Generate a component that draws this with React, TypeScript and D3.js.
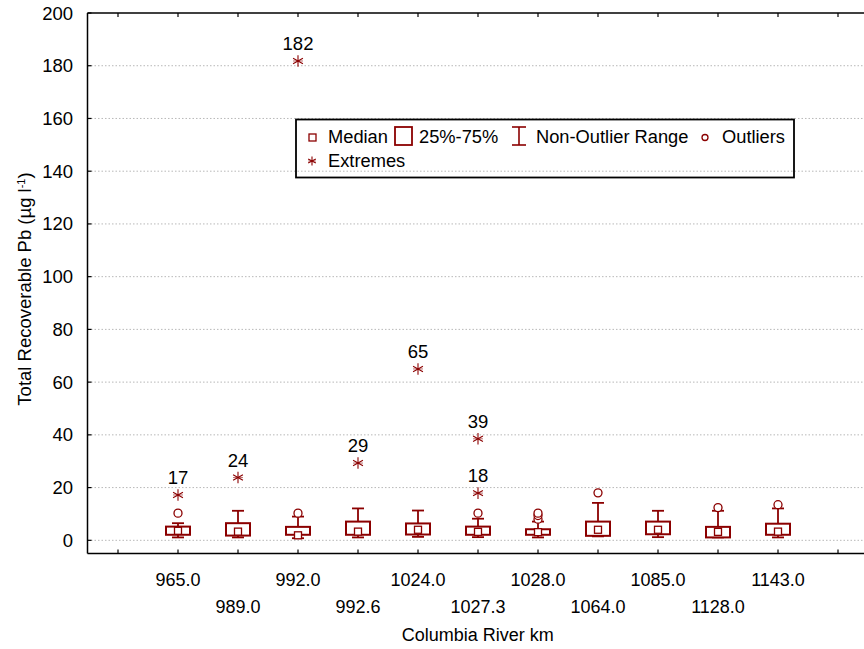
import React from "react";
import * as d3 from "d3";

const categories = ["965.0", "989.0", "992.0", "992.6", "1024.0", "1027.3", "1028.0", "1064.0", "1085.0", "1128.0", "1143.0"];
const medians = [3.6, 3.3, 1.9, 3.3, 4.0, 3.2, 3.1, 4.0, 4.0, 3.2, 3.3];
const q1 = [2.1, 1.8, 2.1, 2.1, 2.2, 2.1, 2.1, 1.7, 2.3, 1.1, 2.1];
const q3 = [5.2, 6.5, 5.1, 7.1, 6.4, 5.2, 4.2, 7.1, 7.1, 5.1, 6.3];
const whiskerLow = [1.1, 1.1, 0.8, 1.1, 1.3, 1.2, 1.1, 1.5, 1.2, 1.1, 1.1];
const whiskerHigh = [6.5, 11.2, 9.0, 12.1, 11.3, 8.2, 7.1, 14.2, 11.2, 11.2, 12.1];
const outliers: number[][] = [[10.3], [], [10.3], [], [], [10.3], [8.0, 9.4, 10.3], [18.0], [], [12.4], [13.5]];
const extremes: number[][] = [[17.2], [23.8], [181.8], [29.3], [65.0], [38.5, 17.9], [], [], [], [], []];
const yTicks = [0, 20, 40, 60, 80, 100, 120, 140, 160, 180, 200];

const W = 864, H = 649;
const left = 87.5, top = 13, right = 868, bottom = 553.5;
const RED = "#8B0000";
const FONT = "'Liberation Sans', Arial, sans-serif";

function Asterisk({ x, y, s = 5.8 }: { x: number; y: number; s?: number }) {
  const d = s * 0.85;
  return (
    <g stroke={RED} strokeWidth={1.1}>
      <line x1={x} y1={y - s} x2={x} y2={y + s} />
      <line x1={x - d} y1={y - d * 0.55} x2={x + d} y2={y + d * 0.55} />
      <line x1={x - d} y1={y + d * 0.55} x2={x + d} y2={y - d * 0.55} />
      <line x1={x - d} y1={y} x2={x + d} y2={y} strokeWidth={0.6} />
    </g>
  );
}

export default function App() {
  const slots = ["_l", ...categories, "_r"];
  const x = d3.scalePoint<string>().domain(slots).range([118, 838]);
  const y = d3.scaleLinear().domain([-5, 200]).range([bottom, top]);
  const bw = 24, cap = 12, ms = 7;

  return (
    <svg width={W} height={H} style={{ position: "absolute", left: 0, top: 0, background: "#fff" }} fontFamily={FONT}>
      {/* gridlines */}
      {yTicks.filter(t => t < 200).map(t => (
        <line key={t} x1={left} x2={right} y1={y(t)} y2={y(t)} stroke="#b8b8b8" strokeWidth={1} strokeDasharray="1.5 2" />
      ))}
      {/* axes */}
      <line x1={left} x2={right} y1={top} y2={top} stroke="#000" strokeWidth={1.5} />
      <line x1={left} x2={right} y1={bottom} y2={bottom} stroke="#000" strokeWidth={1.5} />
      <line x1={left} x2={left} y1={top} y2={bottom} stroke="#000" strokeWidth={1.5} />
      {yTicks.map(t => (
        <g key={t}>
          <line x1={left} x2={left + 4} y1={y(t)} y2={y(t)} stroke="#000" strokeWidth={1.2} />
          <text x={73} y={y(t) + 6.5} textAnchor="end" fontSize={18.5}>{t}</text>
        </g>
      ))}
      {slots.map(s => (
        <g key={s}>
          <line x1={x(s)} x2={x(s)} y1={bottom} y2={bottom - 4} stroke="#000" strokeWidth={1.2} />
          <line x1={x(s)} x2={x(s)} y1={top} y2={top + 4} stroke="#000" strokeWidth={1.2} />
        </g>
      ))}
      {categories.map((c, i) => (
        <text key={c} x={x(c)} y={i % 2 === 0 ? 586 : 613} textAnchor="middle" fontSize={18}>{c}</text>
      ))}
      <text x={(left + right) / 2} y={641} textAnchor="middle" fontSize={18}>Columbia River km</text>
      <text transform={`translate(31,289) rotate(-90)`} textAnchor="middle" fontSize={18.5}>
        Total Recoverable Pb (µg l<tspan baselineShift="super" fontSize={11}>-1</tspan>)
      </text>

      {/* boxes */}
      {categories.map((c, i) => {
        const cx = x(c)!;
        return (
          <g key={c} stroke={RED} fill="none">
            <line x1={cx} x2={cx} y1={y(q3[i])} y2={y(whiskerHigh[i])} strokeWidth={1.8} />
            <line x1={cx - cap / 2} x2={cx + cap / 2} y1={y(whiskerHigh[i])} y2={y(whiskerHigh[i])} strokeWidth={1.8} />
            <line x1={cx} x2={cx} y1={y(q1[i])} y2={y(whiskerLow[i])} strokeWidth={1.8} />
            <line x1={cx - cap / 2} x2={cx + cap / 2} y1={y(whiskerLow[i])} y2={y(whiskerLow[i])} strokeWidth={1.8} />
            <rect x={cx - bw / 2} y={y(q3[i])} width={bw} height={y(q1[i]) - y(q3[i])} strokeWidth={2} fill="#fff" />
            <rect x={cx - ms / 2} y={y(medians[i]) - ms / 2} width={ms} height={ms} strokeWidth={1.3} fill="#fff" />
            {outliers[i].map((o, k) => (
              <circle key={k} cx={cx} cy={y(o)} r={4} strokeWidth={1.3} fill="#fff" />
            ))}
            {extremes[i].map((e, k) => (
              <g key={k}>
                <Asterisk x={cx} y={y(e)} />
                <text x={cx} y={y(e) - 11} textAnchor="middle" fontSize={18.5} fill="#000" stroke="none">{Math.round(e)}</text>
              </g>
            ))}
          </g>
        );
      })}

      {/* legend */}
      <g fontSize={18.3}>
        <rect x={296} y={119.5} width={498} height={58} fill="none" stroke="#000" strokeWidth={1.8} />
        <rect x={309} y={134} width={7} height={7} fill="#fff" stroke={RED} strokeWidth={1.3} />
        <text x={328} y={143}>Median</text>
        <rect x={395} y={127} width={17} height={18} fill="#fff" stroke={RED} strokeWidth={1.8} />
        <text x={419} y={143}>25%-75%</text>
        <g stroke={RED} strokeWidth={1.6}>
          <line x1={519} x2={519} y1={127} y2={145} />
          <line x1={512} x2={526} y1={127} y2={127} />
          <line x1={512} x2={526} y1={145} y2={145} />
        </g>
        <text x={536} y={143}>Non-Outlier Range</text>
        <circle cx={705} cy={137.5} r={3} fill="#fff" stroke={RED} strokeWidth={1.3} />
        <text x={722} y={143}>Outliers</text>
        <Asterisk x={312} y={161} s={4.5} />
        <text x={328} y={167}>Extremes</text>
      </g>
    </svg>
  );
}
